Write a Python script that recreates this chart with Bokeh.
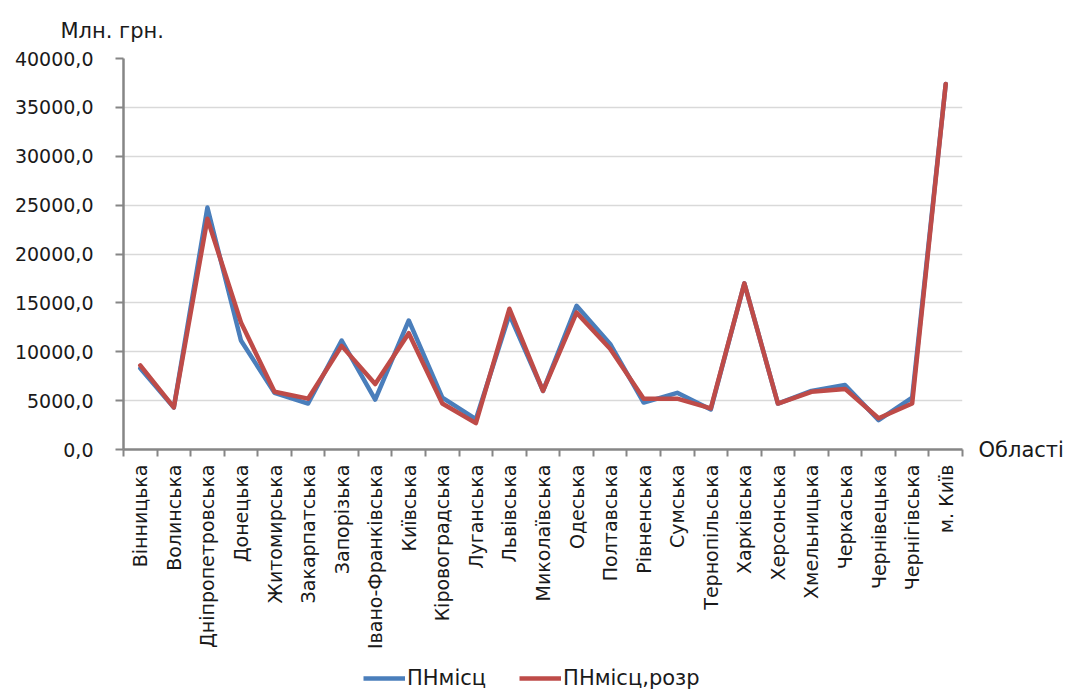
import math
from bokeh.plotting import figure
from bokeh.layouts import column
from bokeh.models import (ColumnDataSource, FixedTicker, CustomJSTickFormatter, Range1d,
                          Legend, LegendItem, LinearAxis)
from bokeh.embed import file_html
from bokeh.resources import INLINE

categories = ["Вінницька", "Волинська", "Дніпропетровська", "Донецька", "Житомирська",
              "Закарпатська", "Запорізька", "Івано-Франківська", "Київська", "Кіровоградська",
              "Луганська", "Львівська", "Миколаївська", "Одеська", "Полтавська",
              "Рівненська", "Сумська", "Тернопільська", "Харківська", "Херсонська",
              "Хмельницька", "Черкаська", "Чернівецька", "Чернігівська", "м. Київ"]
pn_mists = [8300, 4300, 24750, 11150, 5800, 4700, 11150, 5100, 13200, 5300,
            3100, 13800, 6000, 14700, 10800, 4800, 5800, 4100, 17000, 4700,
            6000, 6600, 3000, 5300, 37400]
pn_mists_rozr = [8600, 4300, 23600, 13000, 5900, 5200, 10600, 6700, 11900, 4700,
                 2700, 14400, 6000, 14000, 10300, 5200, 5200, 4200, 17000, 4700,
                 5900, 6200, 3200, 4700, 37400]
y_ticks = [0, 5000, 10000, 15000, 20000, 25000, 30000, 35000, 40000]
series_names = ["ПНмісц", "ПНмісц,розр"]
y_title = "Млн. грн."
x_title = "Області"

FONT = "DejaVu Sans"
TXT = "#1a1a1a"
AX = "#868686"
BLUE = "#4A7EBB"
RED = "#BE4B48"

xs = [i + 0.5 for i in range(len(categories))]
src = ColumnDataSource(dict(x=xs, a=pn_mists, b=pn_mists_rozr))

p = figure(frame_width=839, frame_height=391, output_backend="svg", toolbar_location=None,
           x_range=Range1d(0, len(categories)), y_range=Range1d(0, 40000),
           min_border_left=123, min_border_right=100, min_border_top=58, min_border_bottom=0,
           title=y_title)
p.outline_line_color = None
p.background_fill_color = "white"
p.border_fill_color = "white"

p.title.align = "left"
p.title.offset = -63
p.title.standoff = 32
p.title.text_font = FONT
p.title.text_font_size = "21px"
p.title.text_font_style = "normal"
p.title.text_color = TXT

p.line("x", "a", source=src, line_color=BLUE, line_width=4.5,
       line_join="round", line_cap="round")
p.line("x", "b", source=src, line_color=RED, line_width=4.5,
       line_join="round", line_cap="round")

# x axis
p.xaxis.ticker = FixedTicker(ticks=xs, minor_ticks=list(range(len(categories) + 1)))
p.xaxis.major_label_overrides = {x: c for x, c in zip(xs, categories)}
p.xaxis.major_label_orientation = math.pi / 2
p.xaxis.major_tick_line_color = None
p.xaxis.minor_tick_out = 7
p.xaxis.minor_tick_in = 0
p.xaxis.minor_tick_line_color = AX
p.xaxis.minor_tick_line_width = 2
p.xaxis.axis_line_color = AX
p.xaxis.axis_line_width = 2.5
p.xaxis.major_label_text_font = FONT
p.xaxis.major_label_text_font_size = "19px"
p.xaxis.major_label_text_color = TXT
p.xaxis.major_label_standoff = 8
p.xgrid.grid_line_color = None

# y axis
p.yaxis.ticker = FixedTicker(ticks=y_ticks)
p.yaxis.formatter = CustomJSTickFormatter(code="return tick.toFixed(1).replace('.', ',');")
p.yaxis.major_tick_out = 8
p.yaxis.major_tick_in = 0
p.yaxis.minor_tick_line_color = None
p.yaxis.major_tick_line_color = AX
p.yaxis.major_tick_line_width = 2
p.yaxis.axis_line_color = AX
p.yaxis.axis_line_width = 2.5
p.yaxis.major_label_text_font = FONT
p.yaxis.major_label_text_font_size = "19px"
p.yaxis.major_label_text_color = TXT
p.yaxis.major_label_standoff = 22
p.ygrid.grid_line_color = "#D9D9D9"
p.ygrid.grid_line_width = 1.5

# x-axis title at the right end of the axis (an unlined axis with one label)
xt = LinearAxis(ticker=FixedTicker(ticks=[0]), major_label_overrides={0: x_title},
                axis_line_color=None, major_tick_line_color=None, minor_tick_line_color=None,
                major_label_standoff=10, major_label_text_font=FONT,
                major_label_text_font_size="21px", major_label_text_color=TXT)
p.add_layout(xt, "right")

# legend strip below the chart (same series, drawn outside its view so only the keys show)
lf = figure(width=1062, height=38, output_backend="svg", toolbar_location=None,
            x_range=Range1d(0, 1), y_range=Range1d(0, 1), x_axis_type=None, y_axis_type=None,
            min_border=0)
lf.outline_line_color = None
lf.grid.grid_line_color = None
k1 = lf.line("x", "a", source=src, line_color=BLUE, line_width=4.5)
k2 = lf.line("x", "b", source=src, line_color=RED, line_width=4.5)
legend = Legend(items=[LegendItem(label=series_names[0], renderers=[k1]),
                       LegendItem(label=series_names[1], renderers=[k2])],
                location=(240, 0), orientation="horizontal",
                glyph_width=42, glyph_height=20, label_standoff=2, spacing=33,
                padding=0, margin=0, border_line_color=None, background_fill_alpha=0,
                label_text_font=FONT, label_text_font_size="21px", label_text_color=TXT)
lf.add_layout(legend, "center")

layout = column(p, lf, spacing=0)
open("out.html", "w").write(file_html(layout, INLINE))
